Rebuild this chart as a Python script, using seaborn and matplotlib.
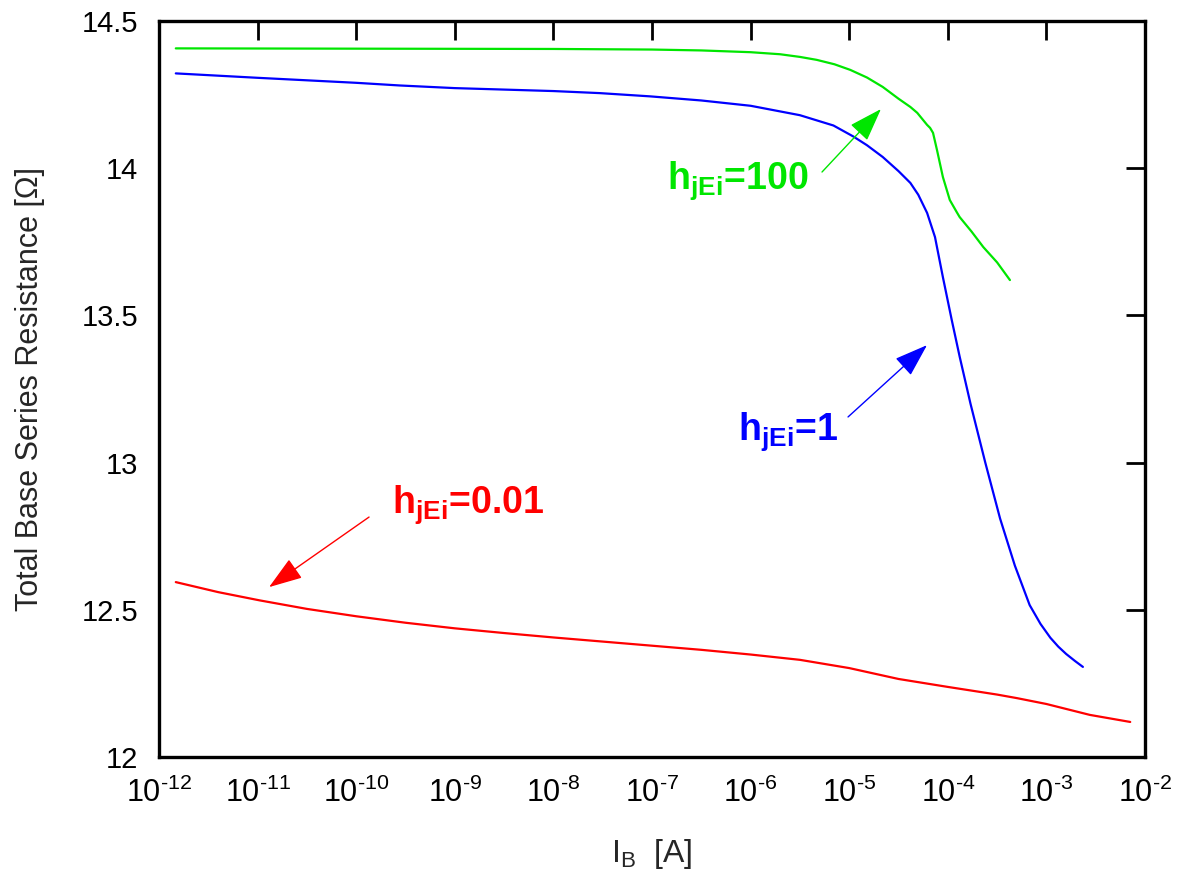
import numpy as np
import pandas as pd
import matplotlib
matplotlib.use("Agg")
import matplotlib.pyplot as plt
import matplotlib.ticker as mticker
import seaborn as sns

# Base current (log10 A) and total base series resistance (Ohm) for each h_jEi
logib_100 = [-11.83, -10.0, -8.0, -7.0, -6.5, -6.0, -5.7, -5.5, -5.33, -5.15,
             -4.99, -4.82, -4.66, -4.5, -4.38, -4.31, -4.21, -4.18, -4.15, -4.11,
             -4.05, -3.98, -3.91, -3.88, -3.76, -3.64, -3.5, -3.37]
r_100 = [14.407, 14.406, 14.405, 14.403, 14.400, 14.394, 14.387, 14.378, 14.368, 14.353,
         14.334, 14.308, 14.276, 14.236, 14.208, 14.188, 14.147, 14.137, 14.120, 14.062,
         13.970, 13.892, 13.851, 13.834, 13.785, 13.732, 13.680, 13.620]

logib_1 = [-11.83, -11.0, -10.0, -9.56, -9.0, -8.0, -7.53, -7.02, -6.5, -6.0,
           -5.5, -5.16, -4.96, -4.82, -4.66, -4.5, -4.38, -4.30, -4.21, -4.13,
           -4.05, -3.96, -3.88, -3.77, -3.62, -3.47, -3.32, -3.17, -3.06, -2.96,
           -2.88, -2.80, -2.71, -2.63]
r_1 = [14.322, 14.307, 14.290, 14.281, 14.272, 14.262, 14.255, 14.244, 14.230, 14.212,
       14.180, 14.145, 14.108, 14.078, 14.038, 13.990, 13.950, 13.910, 13.848, 13.766,
       13.630, 13.484, 13.360, 13.200, 13.000, 12.810, 12.650, 12.516, 12.452, 12.405,
       12.375, 12.350, 12.326, 12.306]

logib_001 = [-11.83, -11.4, -10.98, -10.5, -10.0, -9.5, -9.0, -8.5, -8.0, -7.5,
             -7.0, -6.5, -6.0, -5.5, -5.0, -4.5, -4.0, -3.5, -3.3, -3.0,
             -2.56, -2.15]
r_001 = [12.594, 12.560, 12.532, 12.503, 12.478, 12.456, 12.437, 12.421, 12.406, 12.392,
         12.378, 12.364, 12.348, 12.330, 12.302, 12.265, 12.238, 12.212, 12.200, 12.180,
         12.143, 12.119]

series_names = ["h_jEi=100", "h_jEi=1", "h_jEi=0.01"]
series_colors = ["#00e600", "#0000ff", "#ff0000"]

x_decades = list(range(-12, -1))
y_ticks = [12, 12.5, 13, 13.5, 14, 14.5]
y_tick_labels = ["12", "12.5", "13", "13.5", "14", "14.5"]

sns.set_theme(style="white")
plt.rcParams["font.family"] = ["Liberation Sans", "DejaVu Sans"]
plt.rcParams["mathtext.fontset"] = "custom"
plt.rcParams["mathtext.rm"] = "Liberation Sans"
plt.rcParams["mathtext.bf"] = "Liberation Sans:bold"
plt.rcParams["mathtext.it"] = "Liberation Sans:italic"

frames = []
for name, lx, r in zip(series_names, [logib_100, logib_1, logib_001], [r_100, r_1, r_001]):
    frames.append(pd.DataFrame({"IB": 10.0 ** np.asarray(lx), "R": r, "series": name}))
df = pd.concat(frames, ignore_index=True)

fig = plt.figure(figsize=(11.78, 8.71), dpi=100)
ax = fig.add_axes([0.135, 0.1309, 0.837, 0.845])

sns.lineplot(data=df, x="IB", y="R", hue="series", hue_order=series_names,
             palette=series_colors, estimator=None, sort=False, legend=False,
             linewidth=1.6, ax=ax)

ax.set_xscale("log")
ax.set_xlim(1e-12, 1e-2)
ax.set_ylim(12, 14.5)
ax.xaxis.set_major_locator(mticker.FixedLocator([10.0 ** d for d in x_decades]))
ax.xaxis.set_minor_locator(mticker.NullLocator())
ax.set_xticklabels([r"10$^{\mathdefault{\text{-%d}}}$" % (-d) for d in x_decades])
ax.set_yticks(y_ticks)
ax.set_yticklabels(y_tick_labels)

ax.tick_params(axis="both", which="major", direction="in", length=14, width=2.0,
               top=True, right=True, color="black", labelcolor="black")
ax.tick_params(axis="y", pad=15, labelsize=21)
ax.tick_params(axis="x", pad=15, labelsize=22)
for s in ax.spines.values():
    s.set_visible(True)
    s.set_linewidth(2.4)
    s.set_color("black")

ax.set_xlabel(r"I$_{\mathdefault{B}}$  [A]", fontsize=23, labelpad=20)
ax.set_ylabel("Total Base Series Resistance [Ω]", fontsize=22, labelpad=26)

# Curve labels with pointer arrows
labels = [
    (r"h$_{\mathdefault{jEi}}$=100", series_colors[0], (-6.848, 13.929), (-5.276, 13.987), (-4.678, 14.201)),
    (r"h$_{\mathdefault{jEi}}$=1", series_colors[1], (-6.128, 13.077), (-5.012, 13.155), (-4.211, 13.399)),
    (r"h$_{\mathdefault{jEi}}$=0.01", series_colors[2], (-9.637, 12.829), (-9.870, 12.815), (-10.884, 12.577)),
]
for text, col, tpos, tail, tip in labels:
    ax.text(10.0 ** tpos[0], tpos[1], text, color=col, fontsize=27, fontweight="bold",
            ha="left", va="baseline")
    ax.annotate("", xy=(10.0 ** tip[0], tip[1]), xytext=(10.0 ** tail[0], tail[1]),
                arrowprops=dict(arrowstyle="-|>,head_length=0.7,head_width=0.24",
                                mutation_scale=30, color=col, lw=1.0,
                                shrinkA=0, shrinkB=0))

fig.savefig("out.png", dpi=100, facecolor="white")
